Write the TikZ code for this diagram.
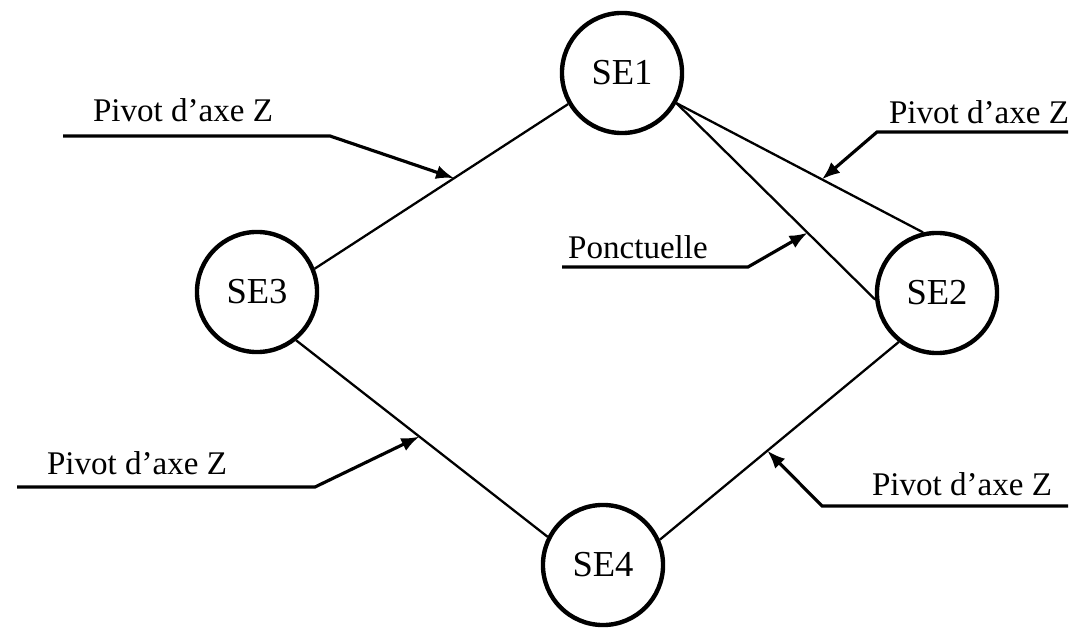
\documentclass[tikz,border=0pt]{standalone}
\usepackage{fontspec}
\setmainfont{Liberation Serif}
\usetikzlibrary{arrows.meta}

\begin{document}
\begin{tikzpicture}[x=0.01cm,y=-0.01cm,
	se/.style={draw,circle,line width=1.25pt,minimum size=1.2cm,inner sep=0pt,font=\fontsize{10.4}{12}\selectfont},
	link/.style={line width=0.65pt},
	lbl/.style={inner sep=0pt,font=\fontsize{9.4}{11}\selectfont},
	lead/.style={line width=0.9pt,-{Latex[length=1.8mm,width=1.4mm]}}]
	
	\useasboundingbox (0,0) rectangle (1085,628);
	
	\node[se] (SE1) at (622,73) {SE1};
	\node[se] (SE2) at (937,293) {SE2};
	\node[se] (SE3) at (257,292) {SE3};
	\node[se] (SE4) at (603,565) {SE4};
	
	\draw[link] (SE1.210) -- (SE3.22) coordinate[pos=0.45] (tA);
	\draw[link] (SE1.-29) -- (SE2.103) coordinate[pos=0.59] (tB);
	\draw[link] (SE1.-29) -- (SE2.186) coordinate[pos=0.66] (tC);
	\draw[link] (SE3.-51) -- (SE4.153) coordinate[pos=0.49] (tD);
	\draw[link] (SE2.232) -- (SE4.24) coordinate[pos=0.55] (tE);
	
	\node[lbl] (pA) at (183,110) {Pivot d'axe Z};
	\node[lbl] (pB) at (979,112) {Pivot d'axe Z};
	\node[lbl] (pC) at (638,247) {Ponctuelle};
	\node[lbl] (pD) at (137,463) {Pivot d'axe Z};
	\node[lbl] (pE) at (962,484) {Pivot d'axe Z};
	
	\coordinate (uA) at (63,136);   \coordinate (kA) at (330,136);
	\coordinate (uB) at (1068,132); \coordinate (kB) at (877,132);
	\coordinate (uC) at (562,267);  \coordinate (kC) at (748,267);
	\coordinate (uD) at (17,487);   \coordinate (kD) at (315,487);
	\coordinate (uE) at (1068,506); \coordinate (kE) at (822,506);
	
	\draw[lead] (uA) -- (kA) -- (tA);
	\draw[lead] (uB) -- (kB) -- (tB);
	\draw[lead] (uC) -- (kC) -- (tC);
	\draw[lead] (uD) -- (kD) -- (tD);
	\draw[lead] (uE) -- (kE) -- (tE);
	
\end{tikzpicture}
\end{document}
